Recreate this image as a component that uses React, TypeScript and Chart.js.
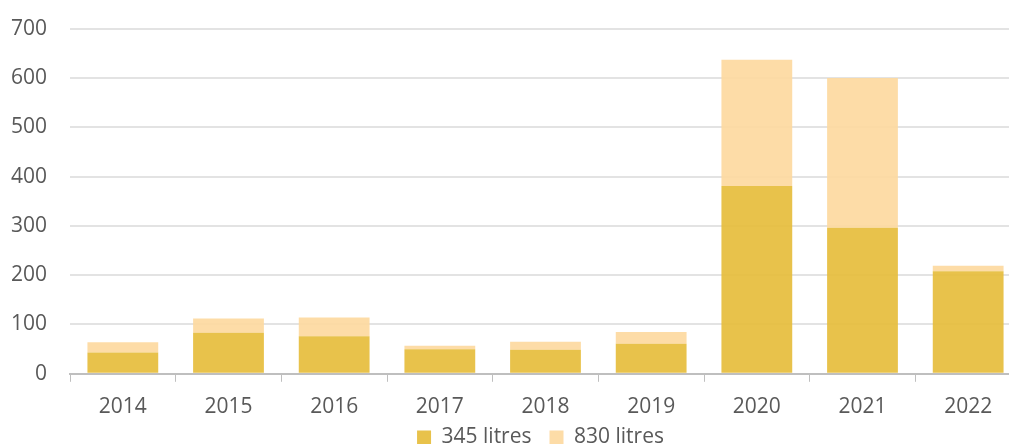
import React, { useEffect, useRef } from "react";
import { Chart, registerables } from "chart.js";

Chart.register(...registerables);

const categories = ["2014", "2015", "2016", "2017", "2018", "2019", "2020", "2021", "2022"];
const litres345 = [43, 83, 76, 50, 49, 61, 381, 296, 208];
const litres830 = [21, 29, 38, 7, 16, 24, 256, 304, 11];
const yTicks = [0, 100, 200, 300, 400, 500, 600, 700];

const shiftLegend = {
  id: "shiftLegend",
  afterLayout(chart: any) {
    const lg = chart.legend;
    if (!lg) return;
    lg.left += 30;
    lg.right += 30;
    lg.top -= 24;
    lg.bottom -= 24;
  },
};

export default function App() {
  const ref = useRef<HTMLCanvasElement | null>(null);
  useEffect(() => {
    if (!ref.current) return;
    const font = { family: "'Open Sans', sans-serif", size: 21 };
    const chart = new Chart(ref.current, {
      type: "bar",
      data: {
        labels: categories,
        datasets: [
          { label: "345 litres", data: litres345, backgroundColor: "rgba(229,187,55,0.9)", categoryPercentage: 1, barPercentage: 0.67 },
          { label: "830 litres", data: litres830, backgroundColor: "rgba(253,216,157,0.9)", categoryPercentage: 1, barPercentage: 0.67 },
        ],
      },
      options: {
        responsive: false,
        animation: false,
        layout: { padding: { top: 5, right: 0, left: 0, bottom: -38 } },
        plugins: {
          legend: {
            position: "bottom",
            labels: { font, color: "#595959", boxWidth: 14, boxHeight: 14, padding: 18 },
          },
          tooltip: { enabled: false },
        },
        scales: {
          x: {
            stacked: true,
            grid: { drawOnChartArea: false, drawTicks: true, tickLength: 8, offset: true, color: "#bfbfbf" },
            border: { color: "#bfbfbf", width: 2 },
            ticks: { font, color: "#595959", padding: 13 },
          },
          y: {
            stacked: true,
            min: 0,
            max: 700,
            afterBuildTicks: (s: any) => { s.ticks = yTicks.map((v) => ({ value: v })); },
            afterFit: (s: any) => { s.width = 70; },
            grid: { color: "#e3e3e3", lineWidth: 2, drawTicks: false },
            border: { display: false },
            ticks: { font, color: "#595959", padding: 23 },
          },
        },
      },
      plugins: [shiftLegend],
    });
    return () => chart.destroy();
  }, []);
  return (
    <div style={{ position: "absolute", left: 0, top: 0, width: 1009, height: 444, overflow: "hidden", background: "#fff" }}>
      <canvas ref={ref} width={1021} height={451} style={{ position: "absolute", left: 0, top: -7, width: 1021, height: 451, display: "block" }} />
    </div>
  );
}
